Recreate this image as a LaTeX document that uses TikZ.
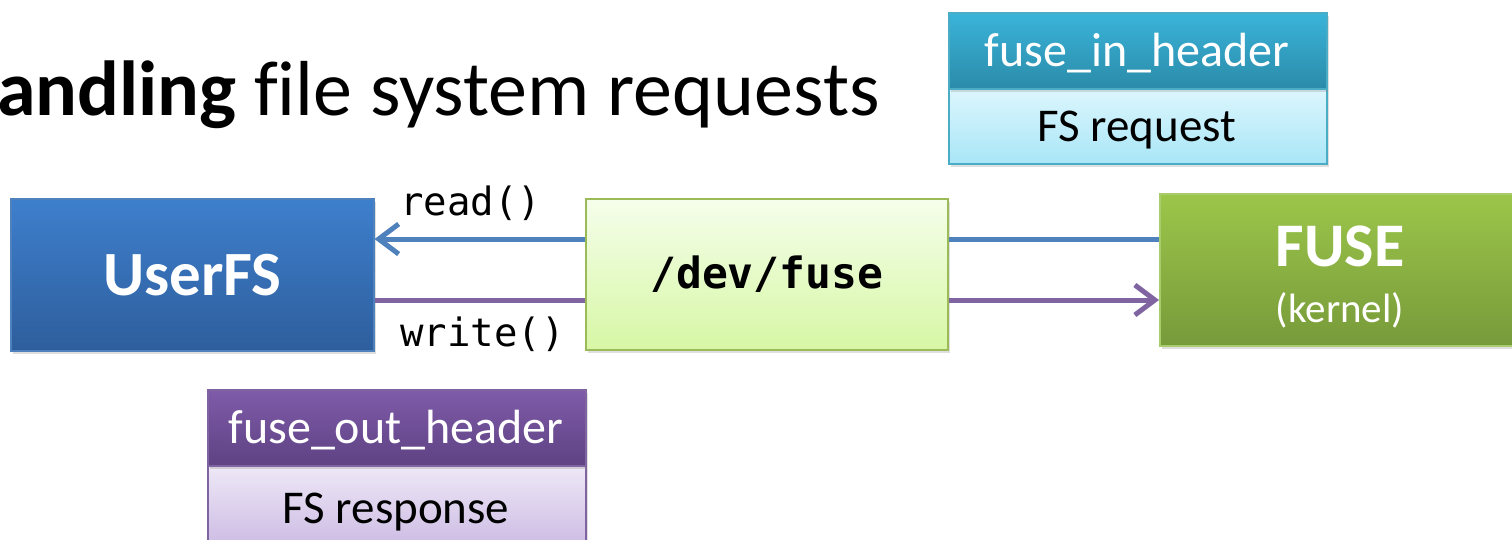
\documentclass[tikz,border=0pt]{standalone}
\usepackage{fontspec}
\setmainfont[Ligatures=NoCommon]{Carlito}
\newfontfamily\monof{DejaVu Sans Mono}
\usetikzlibrary{arrows.meta,shadows}
\definecolor{tealtop}{HTML}{3AB4DA}
\definecolor{tealbot}{HTML}{2B8BA9}
\definecolor{cyantop}{HTML}{DCF6FD}
\definecolor{cyanbot}{HTML}{A9E6F7}
\definecolor{tealline}{HTML}{4BACC6}
\definecolor{bluetop}{HTML}{3E7FCD}
\definecolor{bluebot}{HTML}{2E5E9C}
\definecolor{blueline}{HTML}{4F81BD}
\definecolor{limetop}{HTML}{F5FEEB}
\definecolor{limebot}{HTML}{D7F7A5}
\definecolor{limeline}{HTML}{9BBB59}
\definecolor{greentop}{HTML}{9CC64A}
\definecolor{greenbot}{HTML}{779A3A}
\definecolor{greenline}{HTML}{A8CB6C}
\definecolor{purptop}{HTML}{7F5BA9}
\definecolor{purpbot}{HTML}{5E4283}
\definecolor{lavtop}{HTML}{EEE8F6}
\definecolor{lavbot}{HTML}{C9B6E2}
\definecolor{purpline}{HTML}{8064A2}
\tikzset{
  boxbase/.style={rectangle, inner sep=0pt, anchor=north west, line width=1.5pt,
    drop shadow={shadow xshift=2pt, shadow yshift=-3pt, opacity=0.25}},
  conn/.style={line width=5pt},
  tip/.style={-{Straight Barb[length=20pt,width=30pt]}},
}
\begin{document}
\begin{tikzpicture}[x=1pt,y=-1pt]
\useasboundingbox (0,0) rectangle (1512,539);
% title
\node[anchor=base west, inner sep=0pt, font=\fontsize{78}{90}\selectfont] (title) at (-3,115) {\textbf{andling} file system requests};
% fuse_in_header box
\node[boxbase, draw=tealline, top color=cyantop, bottom color=cyanbot, minimum width=378pt, minimum height=75pt] (inbody) at (948,88) {};
\node[boxbase, draw=tealline, top color=tealtop, bottom color=tealbot, minimum width=378pt, minimum height=76pt] (inhead) at (948,12) {};
\node[font=\fontsize{48}{56}\selectfont, text=white, anchor=base] (intxt) at (1137,66) {fuse\_in\_header};
\node[font=\fontsize{47}{56}\selectfont, anchor=base] (reqtxt) at (1137,141) {FS request};
% UserFS
\node[boxbase, draw=blueline, top color=bluetop, bottom color=bluebot, minimum width=363pt, minimum height=152pt] (user) at (10,198) {};
\node[font=\fontsize{63}{70}\selectfont\bfseries, text=white] at (user.center) {UserFS};
% /dev/fuse
\node[boxbase, draw=limeline, top color=limetop, bottom color=limebot, minimum width=362pt, minimum height=151pt] (dev) at (585,198) {};
\node[font=\fontsize{43}{50}\selectfont\monof\bfseries] at (dev.center) {/dev/fuse};
% FUSE kernel
\node[boxbase, draw=greenline, top color=greentop, bottom color=greenbot, minimum width=370pt, minimum height=152pt] (fuse) at (1159,193) {};
\node[font=\fontsize{62}{70}\selectfont\bfseries, text=white, anchor=base] (fusetxt) at (1340,266) {FUSE};
\node[font=\fontsize{41}{48}\selectfont, text=white, anchor=base] (kern) at (1340,322) {(kernel)};
% fuse_out_header box
\node[boxbase, draw=purpline, top color=lavtop, bottom color=lavbot, minimum width=378pt, minimum height=90pt] (outbody) at (207,465) {};
\node[boxbase, draw=purpline, top color=purptop, bottom color=purpbot, minimum width=378pt, minimum height=76pt] (outhead) at (207,389) {};
\node[font=\fontsize{48}{56}\selectfont, text=white, anchor=base] (outtxt) at (396,443) {fuse\_out\_header};
\node[font=\fontsize{47}{56}\selectfont, anchor=base] (resptxt) at (396,523) {FS response};
% connectors
\coordinate (ry) at (0,239);
\coordinate (wy) at (0,300);
\draw[conn, draw=blueline] (fuse.west |- ry) -- (dev.east |- ry);
\draw[conn, draw=blueline, tip] (dev.west |- ry) -- (user.east |- ry);
\draw[conn, draw=purpline] (user.east |- wy) -- (dev.west |- wy);
\draw[conn, draw=purpline, tip] (dev.east |- wy) -- (fuse.west |- wy);
% labels
\node[font=\fontsize{39}{44}\selectfont\monof, anchor=base west, inner sep=0pt] (rd) at (400,215) {read()};
\node[font=\fontsize{39}{44}\selectfont\monof, anchor=base west, inner sep=0pt] (wr) at (400,346) {write()};
\end{tikzpicture}
\end{document}
